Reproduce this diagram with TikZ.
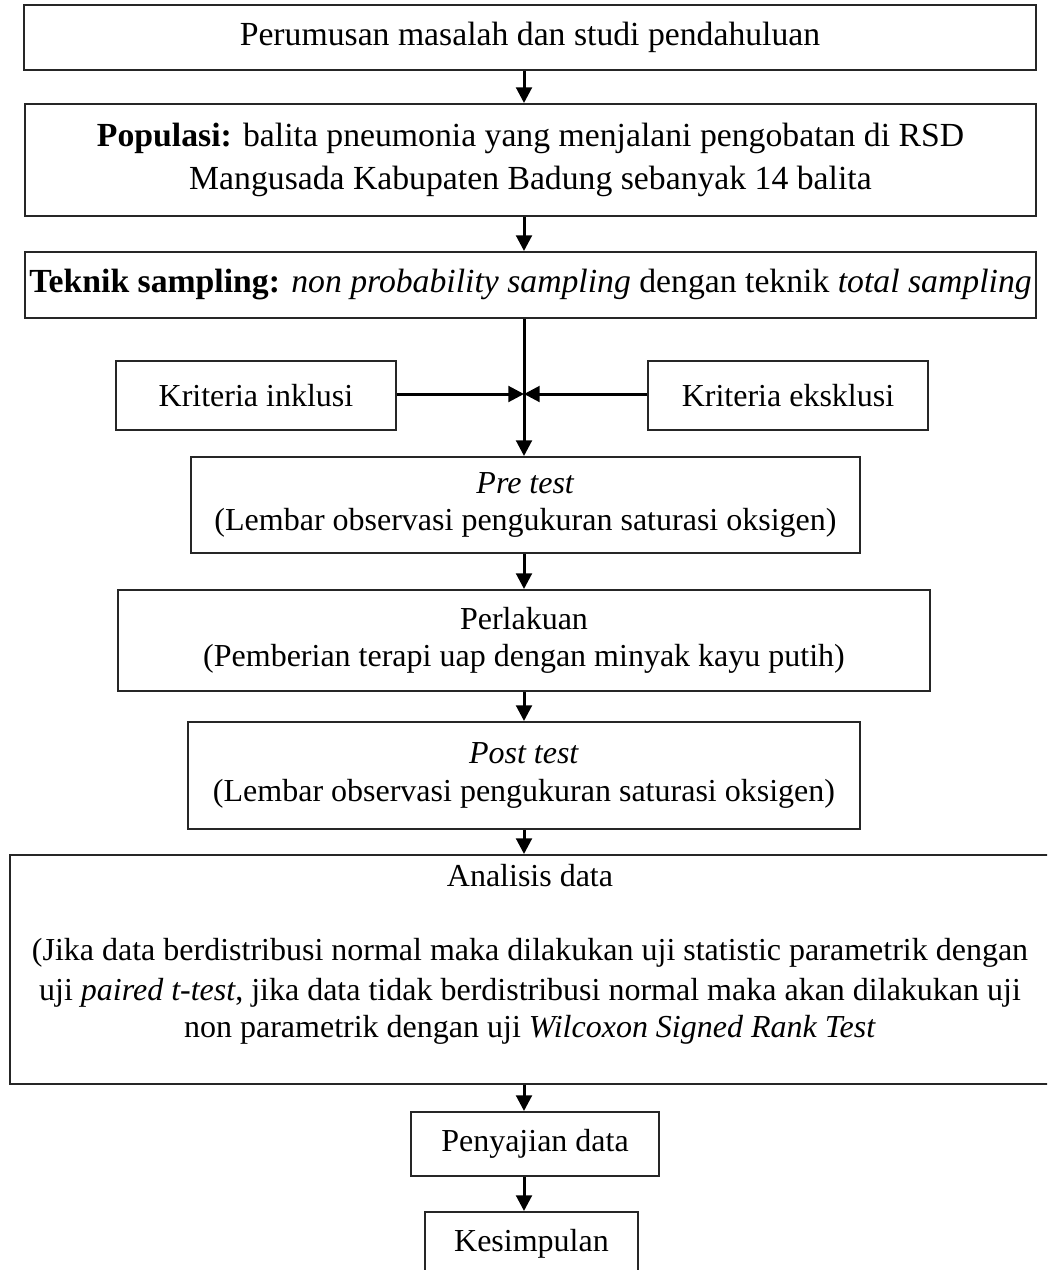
\documentclass[tikz,border=0pt]{standalone}
\usepackage{fontspec}
\setmainfont{Liberation Serif}
\usepackage{tikz}
\usetikzlibrary{arrows.meta}

\begin{document}
\begin{tikzpicture}[x=0.35pt,y=-0.35pt,
    font=\fontsize{11.2}{13}\selectfont,
    box/.style={draw=black!85,line width=0.7pt,inner sep=0pt,align=center},
    headbox/.style={box,font=\fontsize{11.8}{13}\selectfont},
    arr/.style={line width=1.05pt,-{Triangle[length=5.5pt,width=5.5pt]}}]
    \path[use as bounding box,clip] (0,0) rectangle (1047,1270);
    \coordinate (axis) at (524,0);
    \coordinate (meet) at (524,394);
    \node[headbox,minimum width=1012*0.35pt,minimum height=65*0.35pt] (rumusan) at (530,37.5)
      {Perumusan masalah dan studi pendahuluan};
    \node[headbox,minimum width=1011*0.35pt,minimum height=112*0.35pt] (populasi) at (530.5,160)
      {\textbf{Populasi:} balita pneumonia yang menjalani pengobatan di RSD\\[2pt]
       Mangusada Kabupaten Badung sebanyak 14 balita};
    \node[headbox,minimum width=1011*0.35pt,minimum height=66*0.35pt] (sampling) at (530.5,285)
      {\textbf{Teknik sampling:} \textit{non probability sampling} dengan teknik \textit{total sampling}};
    \node[box,minimum width=280*0.35pt,minimum height=69*0.35pt] (inklusi) at (256,395.5)
      {Kriteria inklusi};
    \node[box,minimum width=280*0.35pt,minimum height=69*0.35pt] (eksklusi) at (788,395.5)
      {Kriteria eksklusi};
    \node[box,minimum width=669*0.35pt,minimum height=96*0.35pt] (pretest) at (525.5,505)
      {\textit{Pre test}\\(Lembar observasi pengukuran saturasi oksigen)};
    \node[box,minimum width=812*0.35pt,minimum height=101*0.35pt] (perlakuan) at (524,640.5)
      {Perlakuan\\(Pemberian terapi uap dengan minyak kayu putih)};
    \node[box,minimum width=672*0.35pt,minimum height=107*0.35pt] (posttest) at (524,775.5)
      {\textit{Post test}\\(Lembar observasi pengukuran saturasi oksigen)};
    \node[box,minimum width=1040*0.35pt,minimum height=229*0.35pt] (analisis) at (530,969.5)
      {Analisis data\\[13pt]
       (Jika data berdistribusi normal maka dilakukan uji statistic parametrik dengan\\[1pt]
       uji \textit{paired t-test}, jika data tidak berdistribusi normal maka akan dilakukan uji\\[0pt]
       non parametrik dengan uji \textit{Wilcoxon Signed Rank Test}\\ \mbox{}};
    \node[box,minimum width=248*0.35pt,minimum height=64*0.35pt] (penyajian) at (535,1144)
      {Penyajian data};
    \node[box,minimum width=213*0.35pt,minimum height=64*0.35pt] (kesimpulan) at (531.5,1244)
      {Kesimpulan};
    \draw[arr] (rumusan.south -| axis) -- (populasi.north -| axis);
    \draw[arr] (populasi.south -| axis) -- (sampling.north -| axis);
    \draw[arr] (sampling.south -| axis) -- (pretest.north -| axis);
    \draw[arr] (inklusi.east |- meet) -- (meet);
    \draw[arr] (eksklusi.west |- meet) -- (meet);
    \draw[arr] (pretest.south -| axis) -- (perlakuan.north -| axis);
    \draw[arr] (perlakuan.south -| axis) -- (posttest.north -| axis);
    \draw[arr] (posttest.south -| axis) -- (analisis.north -| axis);
    \draw[arr] (analisis.south -| axis) -- (penyajian.north -| axis);
    \draw[arr] (penyajian.south -| axis) -- (kesimpulan.north -| axis);
\end{tikzpicture}
\end{document}
